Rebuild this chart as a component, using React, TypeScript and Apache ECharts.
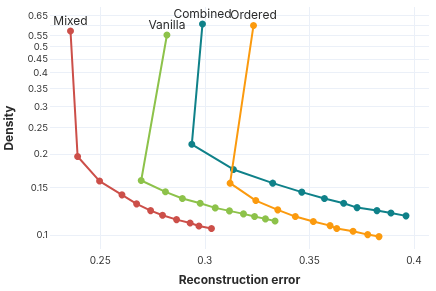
import React, { useEffect, useRef } from "react";
import * as echarts from "echarts";

const mixedX = [0.2358, 0.2392, 0.2497, 0.2604, 0.2674, 0.2741, 0.2798, 0.2865, 0.293, 0.2972, 0.3032];
const mixedY = [0.57, 0.1954, 0.1584, 0.1408, 0.1304, 0.1231, 0.1183, 0.114, 0.1108, 0.108, 0.1056];

const vanillaX = [0.2819, 0.2696, 0.2812, 0.2893, 0.2978, 0.305, 0.3118, 0.3185, 0.3238, 0.329, 0.3336];
const vanillaY = [0.551, 0.1592, 0.1445, 0.1365, 0.1311, 0.126, 0.1228, 0.1197, 0.117, 0.1147, 0.1127];

const combinedX = [0.2989, 0.2938, 0.3137, 0.3325, 0.3464, 0.3572, 0.3664, 0.3728, 0.3823, 0.389, 0.3962];
const combinedY = [0.605, 0.2168, 0.1749, 0.1556, 0.1441, 0.1365, 0.1311, 0.1263, 0.1231, 0.1207, 0.1177];

const orderedX = [0.3233, 0.3121, 0.3244, 0.3349, 0.3433, 0.3519, 0.3599, 0.3631, 0.3709, 0.3779, 0.3833];
const orderedY = [0.598, 0.1556, 0.1341, 0.1239, 0.117, 0.1121, 0.1083, 0.1056, 0.1032, 0.1003, 0.0986];

const seriesNames = ["Mixed", "Vanilla", "Combined", "Ordered"];
const yTicks = [0.1, 0.15, 0.2, 0.25, 0.3, 0.35, 0.4, 0.45, 0.5, 0.55, 0.6, 0.65];
const xTicks = [0.25, 0.3, 0.35, 0.4];

const colors = ["#cc4f49", "#8dc24a", "#0f8189", "#fb9a0e"];
const FONT = "Inter, 'Noto Sans', sans-serif";

export default function App() {
  const ref = useRef<HTMLDivElement>(null);
  useEffect(() => {
    if (!ref.current) return;
    const chart = echarts.init(ref.current, undefined, { renderer: "svg" });
    const xs = [mixedX, vanillaX, combinedX, orderedX];
    const ys = [mixedY, vanillaY, combinedY, orderedY];
    const series = seriesNames.map((name, i) => ({
      name,
      type: "line",
      data: xs[i].map((x, j) => [x, ys[i][j]]),
      symbol: "circle",
      symbolSize: 7,
      showAllSymbol: true,
      lineStyle: { color: colors[i], width: 2 },
      itemStyle: { color: colors[i] },
      label: {
        show: true,
        position: "top",
        distance: 1,
        fontFamily: FONT,
        fontSize: 12,
        color: "#2a2a2a",
        formatter: (p: any) => (p.dataIndex === 0 ? name : ""),
      },
      z: 2 + i,
    }));
    chart.setOption({
      animation: false,
      textStyle: { fontFamily: FONT },
      grid: { left: 50, right: 7, top: 7, bottom: 42, containLabel: false, outerBoundsMode: "none" },
      xAxis: {
        type: "value",
        min: 0.226,
        max: 0.4072,
        name: "Reconstruction error",
        nameLocation: "middle",
        nameGap: 24,
        nameTextStyle: { fontFamily: FONT, fontSize: 12, fontWeight: "bold", color: "#2a2a2a" },
        axisLine: { show: false },
        axisTick: { show: false, customValues: xTicks },
        axisLabel: {
          customValues: xTicks,
          fontFamily: FONT,
          fontSize: 10,
          color: "#333",
          margin: 6,
          formatter: (v: number) => String(v),
        },
        splitLine: { show: true, lineStyle: { color: "#ebf0f8", width: 1 } },
      },
      yAxis: {
        type: "log",
        min: 0.0887,
        max: 0.7,
        name: "Density",
        nameLocation: "middle",
        nameGap: 36,
        nameTextStyle: { fontFamily: FONT, fontSize: 12, fontWeight: "bold", color: "#2a2a2a" },
        axisLine: { show: false },
        axisTick: { show: false, customValues: yTicks },
        axisLabel: {
          customValues: yTicks,
          showMaxLabel: true,
          showMinLabel: true,
          hideOverlap: false,
          fontFamily: FONT,
          fontSize: 9.5,
          color: "#333",
          margin: 2,
          lineHeight: 9,
          formatter: (v: number) => String(v),
        },
        splitLine: { show: true, lineStyle: { color: "#ebf0f8", width: 1 } },
        minorSplitLine: { show: false },
      },
      series,
    });
    return () => chart.dispose();
  }, []);
  return (
    <div
      ref={ref}
      style={{ position: "fixed", left: 0, top: 0, width: 436, height: 291, margin: 0 }}
    />
  );
}
